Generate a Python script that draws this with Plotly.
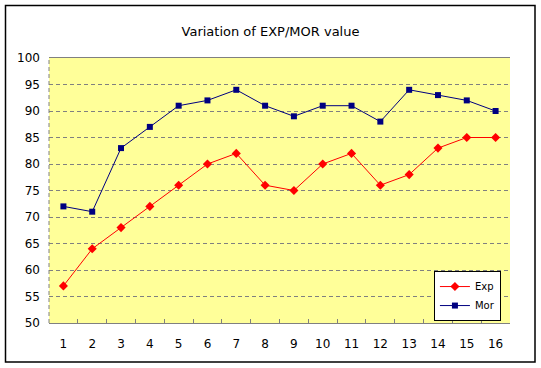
import plotly.graph_objects as go

categories = [str(i) for i in range(1, 17)]
exp_values = [57, 64, 68, 72, 76, 80, 82, 76, 75, 80, 82, 76, 78, 83, 85, 85]
mor_values = [72, 71, 83, 87, 91, 92, 94, 91, 89, 91, 91, 88, 94, 93, 92, 90]
y_ticks = list(range(50, 101, 5))

font = "DejaVu Sans"
fig = go.Figure()
fig.add_trace(go.Scatter(x=categories, y=exp_values, name="Exp", mode="lines+markers",
                         line=dict(color="#FF0000", width=1),
                         marker=dict(symbol="diamond", size=7, color="#FF0000")))
fig.add_trace(go.Scatter(x=categories, y=mor_values, name="Mor", mode="lines+markers",
                         line=dict(color="#000080", width=1),
                         marker=dict(symbol="square", size=6, color="#000080")))

fig.update_layout(
    width=541, height=368,
    margin=dict(l=49, r=31, t=58, b=45),
    paper_bgcolor="white", plot_bgcolor="#FFFF99",
    title=dict(text="Variation of EXP/MOR value", x=0.5, xanchor="center", y=1 - 31 / 368,
               yanchor="middle", font=dict(family=font, size=13, color="black")),
    font=dict(family=font, size=12, color="black"),
    showlegend=True,
    legend=dict(x=0.835, y=0.196, xanchor="left", yanchor="top", bgcolor="white",
                bordercolor="black", borderwidth=1, font=dict(family=font, size=10),
                tracegroupgap=0, itemwidth=30),
    xaxis=dict(type="category", showgrid=False, showline=True, linecolor="#808080",
               linewidth=1, mirror=True, ticks="inside", tickson="boundaries", ticklen=4,
               tickcolor="#808080", range=[-0.5, 15.5], zeroline=False,
               ticklabelstandoff=10),
    yaxis=dict(range=[50, 100], tickvals=y_ticks, showgrid=True, gridcolor="#808080",
               griddash="4px,3px", gridwidth=1, showline=False, zeroline=False, ticks="",
               ticklabelstandoff=8),
)

# left plot edge (dashed)
fig.add_shape(type="line", xref="paper", yref="paper", x0=0, x1=0, y0=0, y1=1,
              line=dict(color="#808080", width=1, dash="4px,3px"))
# outer chart border
fig.add_shape(type="rect", xref="paper", yref="paper",
              x0=(5.5 - 49) / 461, x1=(535 - 49) / 461, y0=(323 - 362) / 265, y1=(323 - 5.5) / 265,
              line=dict(color="black", width=1.5), layer="below")

fig.write_html("out.html", config={"displayModeBar": False},
               post_script="document.body.style.margin='0';")
